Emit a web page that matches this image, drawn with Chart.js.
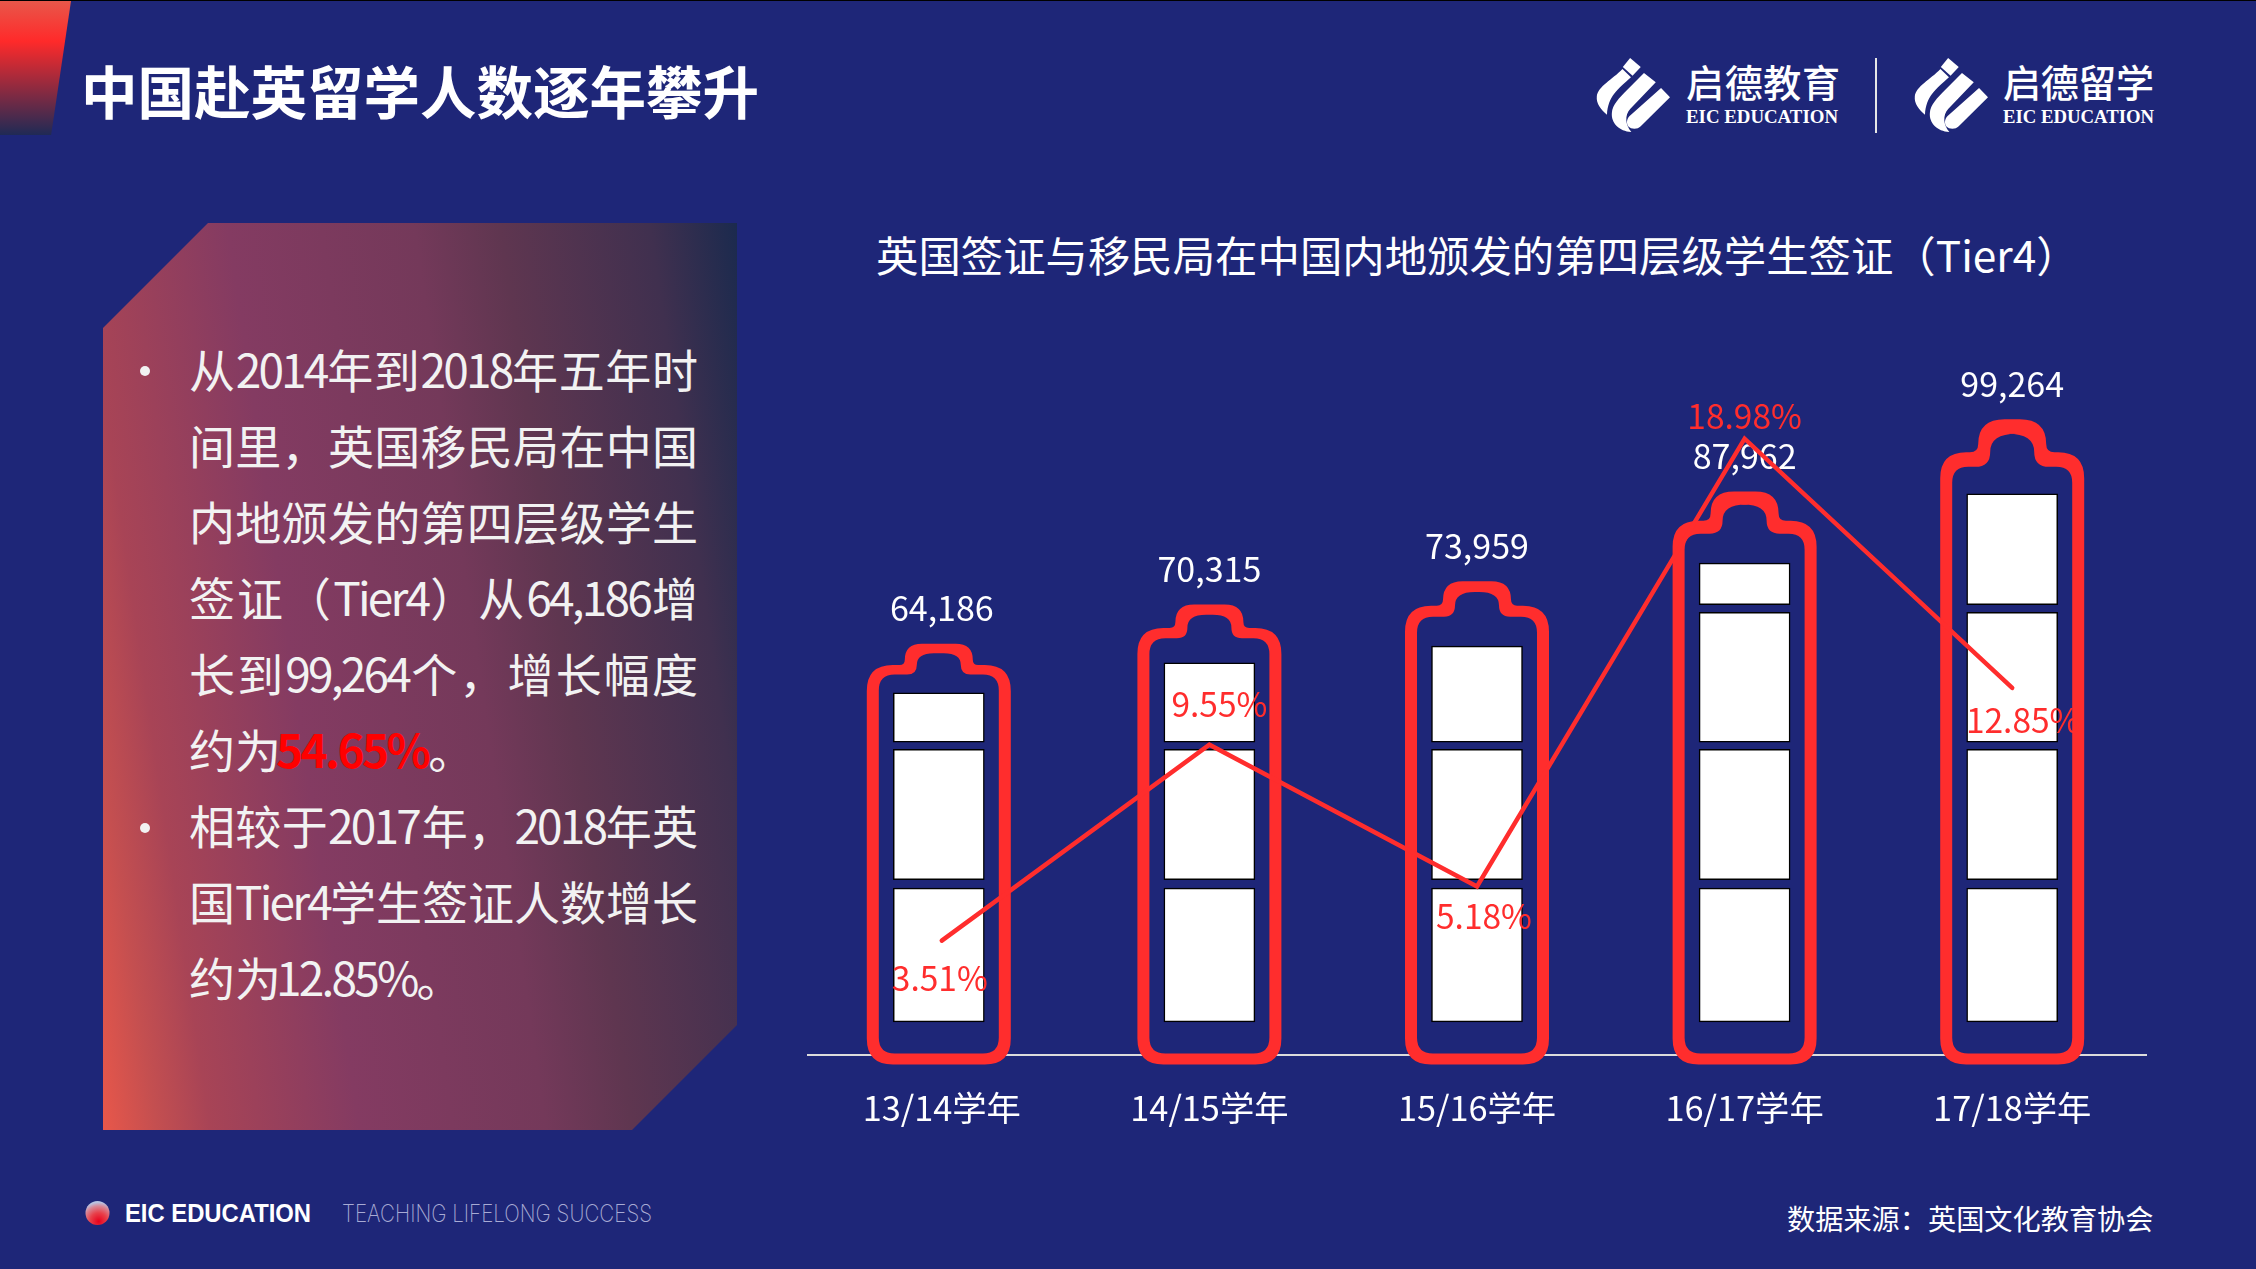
<!DOCTYPE html>
<html lang="zh-CN">
<head>
<meta charset="utf-8">
<title>中国赴英留学人数逐年攀升</title>
<script src="https://cdn.jsdelivr.net/npm/chart.js@4"></script>
<style>
  html, body { margin: 0; padding: 0; background: #1e2678; }
  body { position: relative; width: 2256px; height: 1269px; overflow: hidden;
         font-family: "Noto Sans CJK SC", sans-serif; color: #fff; }
  #topline { position: absolute; left: 0; top: 0; width: 2256px; height: 1px; background: #000; }
  #corner { position: absolute; left: 0; top: 1px; width: 71px; height: 134px;
            clip-path: polygon(0 0, 100% 0, 72% 100%, 0 100%);
            background: linear-gradient(180deg, #e8574a 0%, #ff2a2a 30%, #1f2a55 100%); }
  #page-title { position: absolute; left: 81px; top: 49px; line-height: 80px; font-size: 56.5px; font-weight: 700; white-space: nowrap; }
  #panel { position: absolute; left: 103px; top: 223px; width: 634px; height: 907px;
           clip-path: polygon(105px 0, 100% 0, 100% 802px, 529px 100%, 0 100%, 0 105px);
           background: linear-gradient(81.7deg, #e8574a 0%, #c44f50 7%, #a84456 14%, #843b62 33.5%,
                       #74395a 57.8%, #5f3650 69%, #40304f 88.6%, #1b2a4e 100%); }
  #points { position: absolute; left: 189px; top: 330px; width: 509px; font-size: 46px; color: #f2f2f2; }
  #points .ln { height: 76px; line-height: 76px; white-space: nowrap; text-align: justify; text-align-last: justify; }
  #points .ln.end { text-align-last: left; }
  #points .ln.tight { word-spacing: -8px; }
  #points i { font-style: normal; letter-spacing: -2.8px; }
  #points b { color: #ff0000; letter-spacing: -2.6px; }
  #points .pull { margin-left: -5px; }
  .dot { position: absolute; left: 140px; width: 10px; height: 10px; border-radius: 50%; background: #f2f2f2; }
  #chart-title { position: absolute; left: 876px; top: 224px; line-height: 60px; font-size: 42.4px; white-space: nowrap; }
  #source { position: absolute; left: 1787px; top: 1198px; line-height: 40px; font-size: 28.2px; white-space: nowrap; }
  #deco { position: absolute; left: 0; top: 0; }
  #chart { position: absolute; left: 0; top: 0; }
</style>
</head>
<body>
<div id="topline"></div>
<div id="corner"></div>
<div id="page-title">中国赴英留学人数逐年攀升</div>

<div id="panel"></div>
<div class="dot" style="top:366px"></div>
<div class="dot" style="top:823px"></div>
<div id="points">
  <div class="ln">从<i>2014</i>年到<i>2018</i>年五年时</div>
  <div class="ln">间里，英国移民局在中国</div>
  <div class="ln">内地颁发的第四层级学生</div>
  <div class="ln">签证（<i>Tier4</i>）从<i>64,186</i>增</div>
  <div class="ln">长到<i>99,264</i>个，增长幅度</div>
  <div class="ln end">约为<b class="pull">54.65%</b>。</div>
  <div class="ln tight">相较于<i>2017</i> 年，<i>2018</i>年英</div>
  <div class="ln">国<i>Tier4</i>学生签证人数增长</div>
  <div class="ln end">约为<i class="pull">12.85%</i>。</div>
</div>

<div id="chart-title">英国签证与移民局在中国内地颁发的第四层级学生签证（Tier4）</div>
<div id="source">数据来源：英国文化教育协会</div>

<svg id="deco" width="2256" height="1269" viewBox="0 0 2256 1269">
  <defs>
    <symbol id="mark" viewBox="138 85 182 222" preserveAspectRatio="none">
      <path fill="#fff" d="M222 85 L248 112 L228 138 L204 112 Z"/>
      <path fill="#fff" d="M203 118 L224 143 C190 180 168 200 165 255 C150 240 138 222 140 200 C143 170 178 150 203 118 Z"/>
      <path fill="#fff" d="M256 130 L285 158 L222 238 C208 258 210 285 225 307 C195 305 175 280 177 250 C178 225 195 205 215 180 Z"/>
      <path fill="#fff" d="M298 175 L320 203 L248 290 C240 300 225 300 217 290 C212 280 214 268 220 260 Z"/>
    </symbol>
    <radialGradient id="ball" cx="0.55" cy="0.85" r="0.8">
      <stop offset="0" stop-color="#e8001c"/>
      <stop offset="0.45" stop-color="#e8404a"/>
      <stop offset="0.8" stop-color="#d88898"/>
      <stop offset="1" stop-color="#b8c4e4"/>
    </radialGradient>
  </defs>
  <use href="#mark" x="1596" y="58" width="74" height="74"/>
  <text x="1686" y="97" font-size="38" font-weight="500" fill="#fff" font-family="Noto Sans CJK SC" textLength="154">启德教育</text>
  <text x="1686" y="123" font-size="18" font-weight="700" fill="#fff" font-family="Liberation Serif" textLength="152" lengthAdjust="spacingAndGlyphs">EIC EDUCATION</text>
  <rect x="1875" y="58" width="2" height="75" fill="#e6e6e6"/>
  <use href="#mark" x="1914" y="58" width="74" height="74"/>
  <text x="2003" y="97" font-size="38" font-weight="500" fill="#fff" font-family="Noto Sans CJK SC" textLength="151">启德留学</text>
  <text x="2003" y="123" font-size="18" font-weight="700" fill="#fff" font-family="Liberation Serif" textLength="151" lengthAdjust="spacingAndGlyphs">EIC EDUCATION</text>

  <circle cx="97.5" cy="1213" r="12" fill="url(#ball)"/>
  <text x="125" y="1222" font-size="25" font-weight="700" fill="#fff" font-family="Liberation Sans" textLength="186" lengthAdjust="spacingAndGlyphs">EIC EDUCATION</text>
  <text x="342" y="1222" font-size="24" font-weight="200" fill="#a8abd4" font-family="Inter" textLength="310" lengthAdjust="spacingAndGlyphs">TEACHING LIFELONG SUCCESS</text>
</svg>

<canvas id="chart" width="2256" height="1269"></canvas>

<script>
// ── data ──
const years = ['13/14学年', '14/15学年', '15/16学年', '16/17学年', '17/18学年'];
const visas = [64186, 70315, 73959, 87962, 99264];
const visaLabels = ['64,186', '70,315', '73,959', '87,962', '99,264'];
const growthLine = [3.51, 9.55, 5.18, 18.98, 11.3];   // last point sits lower than its label in the picture
const growthLabels = ['3.51%', '9.55%', '5.18%', '18.98%', '12.85%'];

// white cells inside each battery, in visa-axis units: [from, to]
const cellsLow  = [[5100, 26000], [5100, 26000], [5100, 26000], [5100, 26000], [5100, 26000]];
const cellsMid  = [[27300, 47700], [27300, 47700], [27300, 47700], [27300, 47700], [27300, 47700]];
const cellsHigh = [[48800, 56500], [48800, 61200], [48800, 63800], [48800, 69100], [48800, 69100]];
const cellsTop  = [null, null, null, [70300, 76800], [70300, 87600]];

const FONT = '"Noto Sans CJK SC", sans-serif';
const RED = '#ff2d2d';

function traceBattery(ctx, cx, top, bottom, halfW, neckW, drop, r, bend) {
  const sh = top + drop;
  const round = drop * 0.8;
  ctx.moveTo(cx - halfW, bottom - r);
  ctx.lineTo(cx - halfW, sh + r);
  ctx.quadraticCurveTo(cx - halfW, sh, cx - halfW + r, sh);
  ctx.lineTo(cx - neckW - bend, sh);
  ctx.quadraticCurveTo(cx - neckW, sh, cx - neckW, sh - bend);
  ctx.quadraticCurveTo(cx - neckW, top, cx - neckW + round, top);
  ctx.lineTo(cx + neckW - round, top);
  ctx.quadraticCurveTo(cx + neckW, top, cx + neckW, sh - bend);
  ctx.quadraticCurveTo(cx + neckW, sh, cx + neckW + bend, sh);
  ctx.lineTo(cx + halfW - r, sh);
  ctx.quadraticCurveTo(cx + halfW, sh, cx + halfW, sh + r);
  ctx.lineTo(cx + halfW, bottom - r);
  ctx.quadraticCurveTo(cx + halfW, bottom, cx + halfW - r, bottom);
  ctx.lineTo(cx - halfW + r, bottom);
  ctx.quadraticCurveTo(cx - halfW, bottom, cx - halfW, bottom - r);
  ctx.closePath();
}

// the visa bars are drawn as battery outlines, with the value above them
const batteryPlugin = {
  id: 'battery',
  // first battery stands a little left of its category in the picture
  afterDatasetsUpdate(chart) {
    chart.data.datasets.forEach((d, i) => {
      if (d.type === 'bar') chart.getDatasetMeta(i).data[0].x -= 3;
    });
  },
  afterDatasetDraw(chart, args) {
    if (chart.data.datasets[args.index].label !== 'visas') return;
    const ctx = chart.ctx;
    ctx.save();
    args.meta.data.forEach((bar, i) => {
      const h = bar.base - bar.y;
      const drop = h * 0.052;
      const bottom = bar.base + 10;
      ctx.beginPath();
      traceBattery(ctx, bar.x, bar.y, bottom, 72, 34, drop, 26, drop * 0.25);
      traceBattery(ctx, bar.x, bar.y + h * 0.023, bottom - 11, 60, 22, drop, 16, drop * 0.45);
      ctx.fillStyle = RED;
      ctx.fill('evenodd');

      ctx.fillStyle = '#fff';
      ctx.font = '34px ' + FONT;
      ctx.textAlign = 'center';
      ctx.textBaseline = 'middle';
      ctx.fillText(visaLabels[i], i === 0 ? bar.x + 3 : bar.x, bar.y - 35.5);
    });
    ctx.restore();
  },
  afterDatasetsDraw(chart) {
    const ctx = chart.ctx;
    const meta = chart.getDatasetMeta(chart.data.datasets.findIndex(d => d.label === 'growth'));
    // where each rate label sits against its point
    const dx = [-2, 10, 7, 0, 11];
    const dy = [38, -40, 30, -22, 32];
    ctx.save();
    ctx.fillStyle = RED;
    ctx.font = '33.5px ' + FONT;
    ctx.textAlign = 'center';
    ctx.textBaseline = 'middle';
    meta.data.forEach((pt, i) => ctx.fillText(growthLabels[i], pt.x + dx[i], pt.y + dy[i]));
    ctx.restore();
  }
};

function cellDataset(label, data, order) {
  return { label, data, order, type: 'bar', yAxisID: 'y', grouped: false, barThickness: 91,
           backgroundColor: '#fff', borderColor: '#000', borderWidth: 1.5, borderSkipped: false };
}

new Chart(document.getElementById('chart'), {
  data: {
    labels: years,
    datasets: [
      { label: 'growth', type: 'line', data: growthLine, yAxisID: 'yRate', order: 0,
        borderColor: RED, borderWidth: 4.5, borderCapStyle: 'round', borderJoinStyle: 'miter',
        pointRadius: 0, tension: 0, fill: false },
      { label: 'visas', type: 'bar', data: visas, yAxisID: 'y', order: 1, grouped: false,
        barThickness: 144, backgroundColor: 'transparent', borderWidth: 0 },
      cellDataset('cellsLow', cellsLow, 2),
      cellDataset('cellsMid', cellsMid, 3),
      cellDataset('cellsHigh', cellsHigh, 4),
      cellDataset('cellsTop', cellsTop, 5)
    ]
  },
  options: {
    responsive: false,
    devicePixelRatio: 1,
    animation: false,
    layout: { padding: { left: 808, right: 110, top: 286.5, bottom: 0 } },
    plugins: { legend: { display: false }, title: { display: false }, tooltip: { enabled: false } },
    scales: {
      x: {
        z: 1,
        afterFit: s => { s.height = 214.5; },
        grid: { display: false, drawTicks: false },
        border: { display: true, color: '#dcdcdc', width: 2 },
        ticks: { color: '#fff', font: { family: FONT, size: 34.3 }, padding: 32.5, maxRotation: 0, autoSkip: false }
      },
      y: { display: false, min: 0, max: 120000 },
      yRate: { display: false, min: 0, max: 23.67 }
    }
  },
  plugins: [batteryPlugin]
});
</script>
</body>
</html>
